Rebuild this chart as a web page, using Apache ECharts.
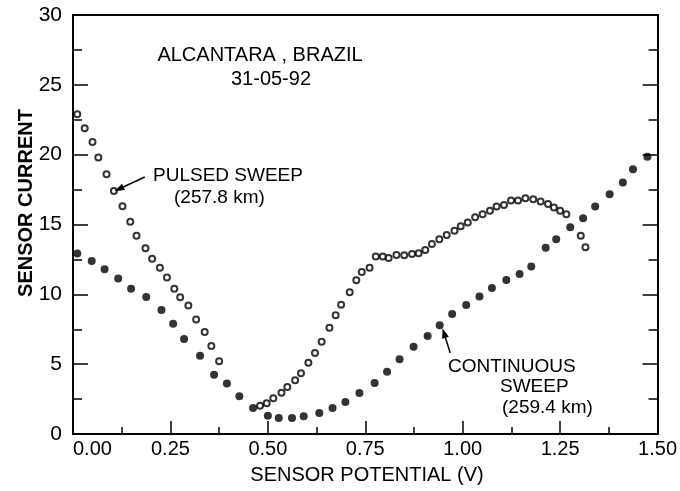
<!DOCTYPE html>
<html>
<head>
<meta charset="utf-8">
<script src="https://cdn.jsdelivr.net/npm/echarts@6/dist/echarts.min.js"></script>
<style>
html,body{margin:0;padding:0;background:#fff;}
#c{width:680px;height:491px;}
</style>
</head>
<body>
<div id="c"></div>
<script>
// Pulsed sweep (open circles)
const pulsedX = [0.011,0.030,0.050,0.065,0.086,0.105,0.127,0.147,0.163,0.186,0.203,0.223,0.241,0.260,0.275,0.296,0.316,0.338,0.355,0.375,
  0.480,0.497,0.514,0.535,0.550,0.570,0.585,0.604,0.621,0.638,0.658,0.674,0.688,0.710,0.727,0.741,0.761,0.777,0.795,0.810,
  0.830,0.850,0.870,0.887,0.904,0.921,0.940,0.959,0.979,0.995,1.013,1.032,1.051,1.070,1.087,1.106,1.124,1.142,1.161,1.181,
  1.200,1.219,1.234,1.250,1.266,1.303,1.315];
const pulsedY = [22.9,21.9,20.9,19.8,18.6,17.4,16.3,15.2,14.2,13.3,12.55,11.9,11.2,10.4,9.8,9.2,8.2,7.3,6.3,5.2,
  2.03,2.2,2.56,2.95,3.37,3.85,4.35,5.1,5.8,6.6,7.6,8.5,9.25,10.15,11.0,11.6,11.9,12.7,12.7,12.6,
  12.82,12.8,12.88,12.95,13.17,13.6,13.95,14.25,14.55,14.87,15.15,15.52,15.74,15.98,16.28,16.4,16.72,16.72,16.88,16.8,
  16.65,16.47,16.22,15.98,15.73,14.2,13.38];

// Continuous sweep (filled dots)
const contX = [0.011,0.048,0.081,0.116,0.149,0.188,0.227,0.257,0.285,0.326,0.362,0.395,0.427,0.462,0.500,0.528,0.562,0.592,0.632,0.666,
  0.699,0.735,0.774,0.806,0.838,0.874,0.910,0.941,0.973,1.009,1.043,1.075,1.112,1.146,1.176,1.213,1.240,1.276,1.309,1.340,
  1.377,1.411,1.437,1.474];
const contY = [12.93,12.38,11.79,11.14,10.4,9.81,8.88,7.9,6.8,5.6,4.25,3.62,2.7,1.86,1.3,1.14,1.14,1.27,1.5,1.86,
  2.3,2.94,3.66,4.45,5.36,6.24,7.02,7.78,8.6,9.23,9.85,10.45,11.03,11.45,12.0,13.34,13.95,14.8,15.45,16.29,
  17.17,18.0,18.96,19.85];

// Axis ranges / ticks
const xRange = [0, 1.5], xStep = 0.25;
const yRange = [0, 30], yStep = 5;

// Annotation arrows (data coordinates: [from, to])
const pulsedArrow = [[0.184, 18.40], [0.118, 17.54]];
const contArrow = [[0.968, 5.80], [0.952, 7.23]];

const FONT = 'Liberation Sans';
const chart = echarts.init(document.getElementById('c'), null, {renderer: 'canvas'});

const zip = (a, b) => a.map((v, i) => [v, b[i]]);
const lineCol = '#000';

const option = {
  animation: false,
  backgroundColor: '#fff',
  grid: {left: 73, right: 20, top: 15, bottom: 57, containLabel: false},
  xAxis: [{
    type: 'value', min: xRange[0], max: xRange[1], interval: xStep, position: 'bottom',
    axisLine: {show: true, onZero: false, lineStyle: {color: lineCol, width: 2}},
    axisTick: {show: true, inside: true, length: 13, lineStyle: {color: lineCol, width: 1.5}},
    minorTick: {show: true, splitNumber: 2, length: 7, lineStyle: {color: lineCol, width: 1.5}},
    splitLine: {show: false}, minorSplitLine: {show: false},
    axisLabel: {formatter: v => v.toFixed(2), fontSize: 20, color: '#000', fontFamily: FONT, margin: 5, alignMinLabel: 'left'}
  }, {
    type: 'value', min: xRange[0], max: xRange[1], position: 'top',
    axisLine: {show: true, onZero: false, lineStyle: {color: lineCol, width: 2}},
    axisTick: {show: false}, axisLabel: {show: false}, splitLine: {show: false}
  }],
  yAxis: [{
    type: 'value', min: yRange[0], max: yRange[1], interval: yStep, position: 'left',
    axisLine: {show: true, onZero: false, lineStyle: {color: lineCol, width: 2}},
    axisTick: {show: true, inside: true, length: 15, lineStyle: {color: lineCol, width: 1.5}},
    minorTick: {show: true, splitNumber: 2, length: 9, lineStyle: {color: lineCol, width: 1.5}},
    splitLine: {show: false}, minorSplitLine: {show: false},
    axisLabel: {fontSize: 21, color: '#000', fontFamily: FONT, margin: 11}
  }, {
    type: 'value', min: yRange[0], max: yRange[1], interval: yStep, position: 'right',
    axisLine: {show: true, onZero: false, lineStyle: {color: lineCol, width: 2}},
    axisTick: {show: true, inside: true, length: 15, lineStyle: {color: lineCol, width: 1.5}},
    minorTick: {show: true, splitNumber: 2, length: 9, lineStyle: {color: lineCol, width: 1.5}},
    splitLine: {show: false}, axisLabel: {show: false}
  }],
  series: [{
    name: 'Continuous sweep', type: 'scatter', symbol: 'circle', symbolSize: 8,
    itemStyle: {color: '#000'},
    data: zip(contX, contY),
    markLine: {
      silent: true, symbol: ['none', 'triangle'], symbolSize: [7, 10],
      lineStyle: {color: '#000', width: 1.5, type: 'solid'},
      label: {show: false},
      data: [
        [{coord: pulsedArrow[0]}, {coord: pulsedArrow[1]}],
        [{coord: contArrow[0]}, {coord: contArrow[1]}]
      ]
    }
  }, {
    name: 'Pulsed sweep', type: 'scatter', symbol: 'circle', symbolSize: 6,
    itemStyle: {color: '#fff', borderColor: '#000', borderWidth: 2},
    data: zip(pulsedX, pulsedY)
  }],
  graphic: [
    {type: 'text', x: 260, y: 55, style: {text: 'ALCANTARA , BRAZIL', font: '20px "Liberation Sans"', fill: '#000', textAlign: 'center', textVerticalAlign: 'middle'}},
    {type: 'text', x: 271, y: 79, style: {text: '31-05-92', font: '20px "Liberation Sans"', fill: '#000', textAlign: 'center', textVerticalAlign: 'middle'}},
    {type: 'text', x: 153, y: 176, style: {text: 'PULSED SWEEP', font: '19px "Liberation Sans"', fill: '#000', textAlign: 'left', textVerticalAlign: 'middle'}},
    {type: 'text', x: 174, y: 198, style: {text: '(257.8 km)', font: '19px "Liberation Sans"', fill: '#000', textAlign: 'left', textVerticalAlign: 'middle'}},
    {type: 'text', x: 448, y: 367, style: {text: 'CONTINUOUS', font: '19px "Liberation Sans"', fill: '#000', textAlign: 'left', textVerticalAlign: 'middle'}},
    {type: 'text', x: 500, y: 387, style: {text: 'SWEEP', font: '19px "Liberation Sans"', fill: '#000', textAlign: 'left', textVerticalAlign: 'middle'}},
    {type: 'text', x: 502, y: 408, style: {text: '(259.4 km)', font: '19px "Liberation Sans"', fill: '#000', textAlign: 'left', textVerticalAlign: 'middle'}},
    {type: 'text', x: 367, y: 475, style: {text: 'SENSOR POTENTIAL (V)', font: '20px "Liberation Sans"', fill: '#000', textAlign: 'center', textVerticalAlign: 'middle'}},
    {type: 'text', x: 26, y: 203, rotation: Math.PI / 2, style: {text: 'SENSOR CURRENT', font: 'bold 20px "Liberation Sans"', fill: '#000', textAlign: 'center', textVerticalAlign: 'middle'}}
  ]
};
chart.setOption(option);
</script>
</body>
</html>
